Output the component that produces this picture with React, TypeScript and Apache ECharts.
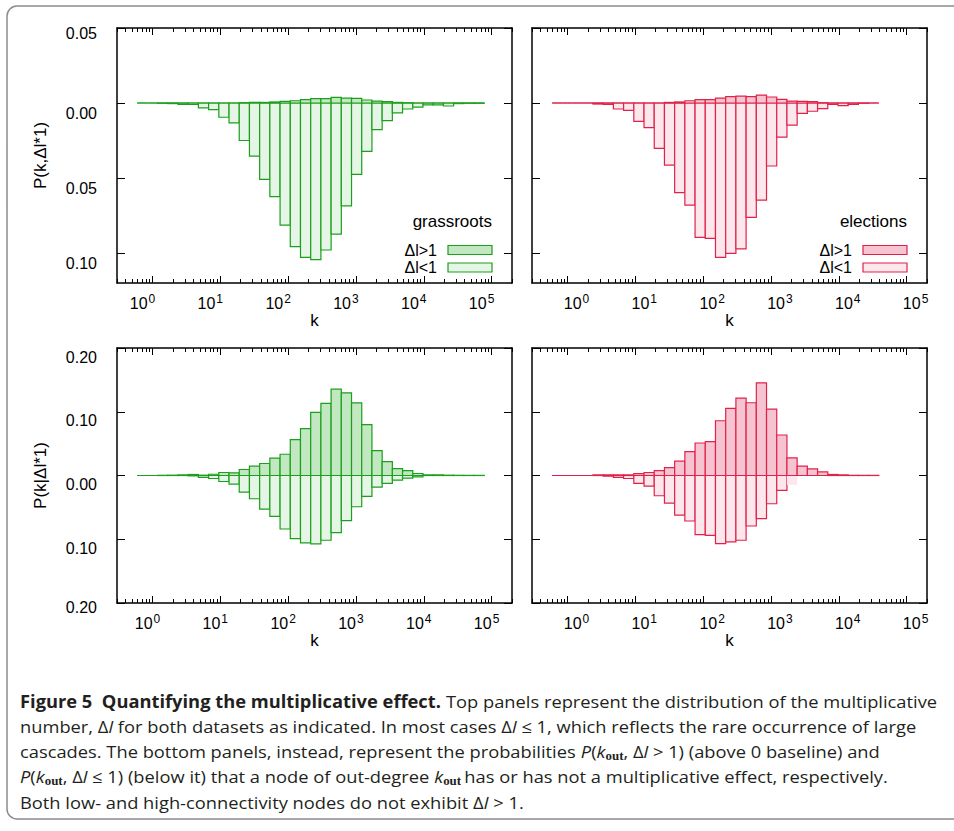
import React, { useEffect, useRef } from "react";
import * as echarts from "echarts";

// ---------- DATA ----------
// Histogram bins are centred on k = 2^(n/2) (width: a factor sqrt(2)).
const BIN_EXPONENTS = [
  -1, 0, 1, 2, 3, 4, 5, 6, 7, 8, 9, 10, 11, 12, 13, 14, 15, 16, 17, 18, 19, 20,
  21, 22, 23, 24, 25, 26, 27, 28, 29, 30, 31, 32,
];

// Top panels: P(k, Δl) — Δl>1 drawn above the baseline, Δl≤1 below it (magnitudes).
const GRASSROOTS_JOINT_GT1 = [
  0, 0, 0, 0, 0, 0, 0, 0, 0, 0, 0.0002, 0.0004, 0.0004, 0.0007, 0.0011, 0.0015,
  0.0022, 0.0029, 0.0029, 0.0038, 0.0033, 0.0031, 0.002, 0.0013, 0.0009,
  0.0004, 0.0002, 0, 0, 0, 0, 0, 0, 0,
];
const GRASSROOTS_JOINT_LE1 = [
  0, 0, 0.0002, 0.0004, 0.0009, 0.001, 0.0033, 0.0044, 0.0095, 0.0133, 0.025,
  0.0354, 0.0509, 0.0624, 0.0814, 0.0958, 0.1029, 0.1044, 0.098, 0.0874,
  0.0686, 0.0476, 0.0323, 0.0177, 0.0117, 0.0066, 0.004, 0.0027, 0.0013,
  0.0013, 0.002, 0.0004, 0.0002, 0.0002,
];
const ELECTIONS_JOINT_GT1 = [
  0, 0, 0, 0, 0, 0, 0, 0, 0, 0, 0, 0.0004, 0.0007, 0.0015, 0.0022, 0.0022,
  0.0033, 0.0042, 0.0046, 0.0042, 0.0053, 0.004, 0.0024, 0.0013, 0.0011,
  0.0009, 0.0002, 0, 0, 0, 0, 0, null, null,
];
const ELECTIONS_JOINT_LE1 = [
  0, 0, 0, 0, 0.0007, 0.0009, 0.004, 0.0049, 0.0122, 0.0164, 0.0303, 0.0414,
  0.0597, 0.0681, 0.0896, 0.0903, 0.1029, 0.1002, 0.0973, 0.0763, 0.0648,
  0.042, 0.0228, 0.0148, 0.0069, 0.0055, 0.0038, 0.0009, 0.0018, 0.0009,
  0.0002, 0, null, null,
];

// Bottom panels: P(k | Δl) — Δl>1 above, Δl≤1 below (magnitudes).
const GRASSROOTS_COND_GT1 = [
  0, 0, 0.0003, 0.0005, 0.001, 0.0016, 0.0005, 0.002, 0.0047, 0.0042, 0.0094,
  0.0146, 0.0188, 0.0271, 0.0333, 0.0563, 0.0734, 0.099, 0.113, 0.1354,
  0.1297, 0.114, 0.0797, 0.039, 0.0219, 0.0109, 0.0078, 0.0031, 0.001, 0.001,
  0.0005, 0.0003, 0.0002, 0.0002,
];
const GRASSROOTS_COND_LE1 = [
  0, 0, 0, 0, 0, 0.0005, 0.003, 0.0047, 0.0094, 0.0135, 0.026, 0.0365, 0.0526,
  0.064, 0.0839, 0.099, 0.1057, 0.1073, 0.1016, 0.0896, 0.0708, 0.049, 0.0328,
  0.0182, 0.0125, 0.0073, 0.0042, 0.0021, 0, 0, 0, 0, 0, 0,
];
const ELECTIONS_COND_GT1 = [
  0, 0, 0, 0, 0.001, 0.001, 0.001, 0.001, 0.003, 0.0047, 0.0078, 0.0125,
  0.0224, 0.0375, 0.051, 0.0531, 0.0859, 0.1052, 0.1214, 0.1141, 0.1453,
  0.1042, 0.0635, 0.0276, 0.0146, 0.0104, 0.0057, 0.0016, 0.001, 0.0003,
  0.0002, 0.0002, null, null,
];
const ELECTIONS_COND_LE1 = [
  0, 0, 0, 0, 0, 0.001, 0.003, 0.0047, 0.0125, 0.0167, 0.0318, 0.0432, 0.062,
  0.0714, 0.0927, 0.0938, 0.1068, 0.1042, 0.1016, 0.0792, 0.0677, 0.0443,
  0.0234, 0.0146, 0, 0, 0, 0, 0, 0, 0, 0, null, null,
];

// Axis ticks / labels
const X_DECADES = [0, 1, 2, 3, 4, 5]; // log10(k) of labelled ticks
const X_MINOR_MULTIPLIERS = [2, 3, 4, 5, 6, 7, 8, 9];
const X_MINOR_DECADES = [-1, 0, 1, 2, 3, 4, 5];
const TOP_Y_TICKS = [0.05, 0, -0.05, -0.1];
const BOTTOM_Y_TICKS = [0.2, 0.1, 0, -0.1, -0.2];
const Y_TITLES = ["P(k,\u0394l*1)", "P(k|\u0394l*1)"];
const X_TITLE = "k";
const DATASET_NAMES = ["grassroots", "elections"];
const LEGEND_LABELS = ["\u0394l>1", "\u0394l<1"];

type Seg = [string, string];
const CAPTION_LINES: Seg[][] = [
  [
    ["b", "Figure 5  Quantifying the multiplicative effect. "],
    ["r", "Top panels represent the distribution of the multiplicative"],
  ],
  [
    ["r", "number, \u0394"],
    ["i", "l "],
    ["r", "for both datasets as indicated. In most cases \u0394"],
    ["i", "l "],
    ["r", "\u2264 1, which reflects the rare occurrence of large"],
  ],
  [
    ["r", "cascades. The bottom panels, instead, represent the probabilities "],
    ["i", "P"],
    ["r", "("],
    ["i", "k"],
    ["s", "out"],
    ["r", ", \u0394"],
    ["i", "l "],
    ["r", "> 1) (above 0 baseline) and"],
  ],
  [
    ["i", "P"],
    ["r", "("],
    ["i", "k"],
    ["s", "out"],
    ["r", ", \u0394"],
    ["i", "l "],
    ["r", "\u2264 1) (below it) that a node of out-degree "],
    ["i", "k"],
    ["s", "out "],
    ["r", "has or has not a multiplicative effect, respectively."],
  ],
  [
    ["r", "Both low- and high-connectivity nodes do not exhibit \u0394"],
    ["i", "l "],
    ["r", "> 1."],
  ],
];

// ---------- STYLE ----------
const AXIS_FONT = '"Liberation Sans", Arial, sans-serif';
const CAPTION_FONT = '"Open Sans", "Noto Sans", sans-serif';
const SUB_FONT = '"Liberation Serif", "DejaVu Serif", serif';
const GREEN = { stroke: "#1c9f1c", dark: "#c1e8c1", light: "#e6f6e6" };
const RED = { stroke: "#e0224b", dark: "#f6c4d0", light: "#fbe7ec" };
const GRID_W = 395;
const GRID_H = 255;
const X_MIN = Math.log10(0.3);
const X_MAX = Math.log10(2e5);
const HALF_BIN = Math.log10(2) / 4;

const PANELS = [
  { left: 117, top: 28, gt: GRASSROOTS_JOINT_GT1, le: GRASSROOTS_JOINT_LE1, yMin: -0.12, yMax: 0.05, yTicks: TOP_Y_TICKS, col: GREEN, yLabels: true, title: Y_TITLES[0], legend: DATASET_NAMES[0], xShift: -10, noOutline: [] as number[] },
  { left: 532, top: 28, gt: ELECTIONS_JOINT_GT1, le: ELECTIONS_JOINT_LE1, yMin: -0.12, yMax: 0.05, yTicks: TOP_Y_TICKS, col: RED, yLabels: false, title: "", legend: DATASET_NAMES[1], xShift: 9, noOutline: [] as number[] },
  { left: 117, top: 348, gt: GRASSROOTS_COND_GT1, le: GRASSROOTS_COND_LE1, yMin: -0.2, yMax: 0.2, yTicks: BOTTOM_Y_TICKS, col: GREEN, yLabels: true, title: Y_TITLES[1], legend: "", xShift: -5, noOutline: [] as number[] },
  { left: 532, top: 348, gt: ELECTIONS_COND_GT1, le: ELECTIONS_COND_LE1, yMin: -0.2, yMax: 0.2, yTicks: BOTTOM_Y_TICKS, col: RED, yLabels: false, title: "", legend: "", xShift: 9, noOutline: [22] },
];

function minorTicks(): number[] {
  const out: number[] = [];
  X_MINOR_DECADES.forEach((d) =>
    X_MINOR_MULTIPLIERS.forEach((m) => {
      const v = d + Math.log10(m);
      if (v >= X_MIN - 1e-6 && v <= X_MAX + 1e-6) out.push(v);
    })
  );
  return out;
}

function barSeries(pi: number, name: string, values: (number | null)[], sign: number, fill: string, stroke: string, noOutline: number[]) {
  const data: number[][] = [];
  BIN_EXPONENTS.forEach((n, i) => {
    const v = values[i];
    if (v === null || v === undefined) return;
    const c = (n * Math.log10(2)) / 2;
    data.push([c - HALF_BIN, c + HALF_BIN, sign * v, n]);
  });
  return {
    type: "custom",
    name,
    xAxisIndex: pi * 4,
    yAxisIndex: pi * 2,
    silent: true,
    encode: { x: [0, 1], y: 2 },
    data,
    renderItem: (_p: any, api: any) => {
      const a = api.coord([api.value(0), 0]);
      const b = api.coord([api.value(1), api.value(2)]);
      const hide = noOutline.indexOf(api.value(3)) >= 0;
      return {
        type: "rect",
        shape: { x: a[0], y: Math.min(a[1], b[1]), width: b[0] - a[0], height: Math.abs(b[1] - a[1]) },
        style: { fill, stroke: hide ? "none" : stroke, lineWidth: 1.2 },
      };
    },
  };
}

function segFont(t: string): string {
  if (t === "b") return `bold 17px ${CAPTION_FONT}`;
  if (t === "i") return `italic 17px ${CAPTION_FONT}`;
  if (t === "s") return `bold 12px ${SUB_FONT}`;
  return `17px ${CAPTION_FONT}`;
}

function buildOption() {
  const minor = minorTicks();
  const xAxis: any[] = [];
  const yAxis: any[] = [];
  const series: any[] = [];
  const graphic: any[] = [];

  PANELS.forEach((p, i) => {
    const common = { type: "value", gridIndex: i, min: X_MIN, max: X_MAX, splitLine: { show: false } };
    const line = { show: true, onZero: false, lineStyle: { color: "#000", width: 1.5 } };
    const major = { show: true, inside: true, length: 7, customValues: X_DECADES, lineStyle: { color: "#000", width: 1 } };
    const minorT = { show: true, inside: true, length: 4, customValues: minor, lineStyle: { color: "#000", width: 1 } };
    const pad = p.xShift < 0 ? [0, -2 * p.xShift, 0, 0] : [0, 0, 0, 2 * p.xShift];
    xAxis.push({
      ...common,
      position: "bottom",
      axisLine: line,
      axisTick: major,
      axisLabel: {
        show: true,
        customValues: X_DECADES,
        margin: 10,
        padding: pad,
        formatter: (v: number) => `{a|10}{s|${Math.round(v)}}`,
        rich: {
          a: { fontFamily: AXIS_FONT, fontSize: 16, color: "#000" },
          s: { fontFamily: AXIS_FONT, fontSize: 12, color: "#000", verticalAlign: "top", padding: [0, 0, 8, 1] },
        },
      },
      name: X_TITLE,
      nameLocation: "middle",
      nameGap: 28,
      nameTextStyle: { fontFamily: AXIS_FONT, fontSize: 17, color: "#000" },
    });
    xAxis.push({ ...common, position: "bottom", axisLine: { show: false, onZero: false }, axisTick: minorT, axisLabel: { show: false } });
    xAxis.push({ ...common, position: "top", axisLine: line, axisTick: major, axisLabel: { show: false } });
    xAxis.push({ ...common, position: "top", axisLine: { show: false, onZero: false }, axisTick: minorT, axisLabel: { show: false } });

    const yCommon = { type: "value", gridIndex: i, min: p.yMin, max: p.yMax, splitLine: { show: false } };
    const yTick = { show: true, inside: true, length: 8, customValues: p.yTicks, lineStyle: { color: "#000", width: 1 } };
    const isTop = p.yMax < 0.1;
    const lab = (d: number) => ({ fontFamily: AXIS_FONT, fontSize: 16, color: "#000", padding: [2 * d, 0, 0, 0] });
    yAxis.push({
      ...yCommon,
      position: "left",
      axisLine: line,
      axisTick: yTick,
      axisLabel: {
        show: p.yLabels,
        customValues: p.yTicks,
        margin: 20,
        showMinLabel: true,
        showMaxLabel: true,
        formatter: (v: number) => {
          let d = isTop ? 10 : 9;
          if (isTop && Math.abs(v - p.yMax) < 1e-9) d = 5;
          if (!isTop && Math.abs(v - p.yMin) < 1e-9) d = 4;
          return `{d${d}|${Math.abs(v).toFixed(2)}}`;
        },
        rich: { d4: lab(4), d5: lab(5), d9: lab(9), d10: lab(10) },
      },
      name: p.title,
      nameLocation: "middle",
      nameRotate: 90,
      nameGap: 68,
      nameTextStyle: { fontFamily: AXIS_FONT, fontSize: 17, color: "#000" },
    });
    yAxis.push({ ...yCommon, position: "right", axisLine: line, axisTick: yTick, axisLabel: { show: false } });

    series.push(barSeries(i, LEGEND_LABELS[1], p.le, -1, p.col.light, p.col.stroke, p.noOutline));
    series.push(barSeries(i, LEGEND_LABELS[0], p.gt, 1, p.col.dark, p.col.stroke, []));

    if (p.legend) {
      const right = p.left + GRID_W - 20;
      graphic.push({
        type: "text", x: right, y: 221, silent: true,
        style: { text: p.legend, fontFamily: AXIS_FONT, fontSize: 17, fill: "#000", align: "right", textAlign: "right", verticalAlign: "middle", textVerticalAlign: "middle" },
      });
      LEGEND_LABELS.forEach((lbl, k) => {
        const cy = 250 + k * 17.5;
        graphic.push({
          type: "text", x: right - 55, y: cy, silent: true,
          style: { text: lbl, fontFamily: AXIS_FONT, fontSize: 16, lineHeight: 15, fill: "#000", align: "right", textAlign: "right", verticalAlign: "middle", textVerticalAlign: "middle" },
        });
        graphic.push({
          type: "rect", silent: true,
          shape: { x: right - 44, y: cy - 4.5, width: 44, height: 9 },
          style: { fill: k === 0 ? p.col.dark : p.col.light, stroke: p.col.stroke, lineWidth: 1.2 },
        });
      });
    }
  });

  // figure frame
  graphic.unshift({
    type: "rect", silent: true, z: -10,
    shape: { x: 7, y: 6, width: 970, height: 813, r: 10 },
    style: { fill: "none", stroke: "#8c8c8c", lineWidth: 1.5 },
  });

  // caption
  const ctx = document.createElement("canvas").getContext("2d")!;
  const lineWidth = (segs: Seg[]) =>
    segs.reduce((acc, [t, s]) => {
      ctx.font = segFont(t);
      return acc + ctx.measureText(s).width;
    }, 0);
  const scale = 917 / lineWidth(CAPTION_LINES[0]);
  const rich = {
    r: { fontFamily: CAPTION_FONT, fontSize: 17, fill: "#231f20" },
    b: { fontFamily: CAPTION_FONT, fontSize: 17, fontWeight: "bold", fill: "#231f20" },
    i: { fontFamily: CAPTION_FONT, fontSize: 17, fontStyle: "italic", fill: "#231f20" },
    s: { fontFamily: SUB_FONT, fontSize: 12, fontWeight: "bold", fill: "#231f20", verticalAlign: "bottom", padding: [10, 0, 0, 0] },
  };
  CAPTION_LINES.forEach((segs, li) => {
    graphic.push({
      type: "text", silent: true,
      x: 20, y: 701 + li * 25.2, scaleX: scale, scaleY: 1,
      style: {
        text: segs.map(([t, s]) => `{${t}|${s}}`).join(""),
        rich,
        fontFamily: CAPTION_FONT, fontSize: 17, fill: "#231f20",
        align: "left", textAlign: "left", verticalAlign: "middle", textVerticalAlign: "middle",
      },
    });
  });

  return {
    animation: false,
    backgroundColor: "#ffffff",
    grid: PANELS.map((p) => ({ left: p.left, top: p.top, width: GRID_W, height: GRID_H, containLabel: false })),
    xAxis,
    yAxis,
    series,
    graphic,
  };
}

export default function App() {
  const ref = useRef<HTMLDivElement>(null);
  useEffect(() => {
    if (!ref.current) return;
    const chart = echarts.init(ref.current, undefined, { renderer: "svg" });
    chart.setOption(buildOption() as any);
    return () => chart.dispose();
  }, []);
  return (
    <div
      ref={ref}
      style={{ position: "fixed", left: 0, top: 0, width: 954, height: 831, background: "#fff" }}
    />
  );
}
